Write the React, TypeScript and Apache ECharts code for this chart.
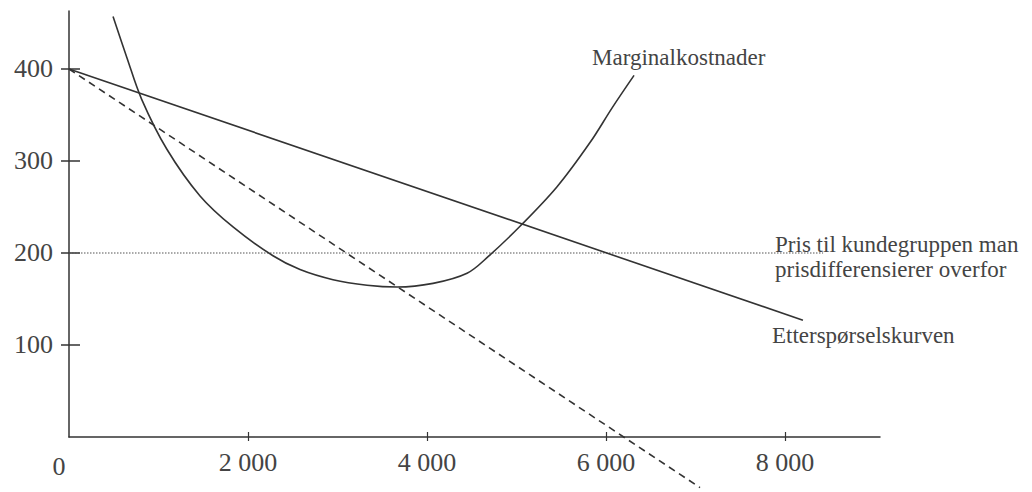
import React, { useEffect, useRef } from "react";
import * as echarts from "echarts";

// Tick values
const xTickValues = [0, 2000, 4000, 6000, 8000];
const yTickValues = [100, 200, 300, 400];

// Demand curve (Etterspørselskurven): straight line
const demandX = [0, 8200];
const demandY = [400, 127];

// Marginal revenue (dashed)
const mrX = [0, 7050];
const mrY = [400, -55];

// Price to the customer group (dotted)
const priceX = [0, 8425];
const priceY = [200, 200];

// Marginal cost curve
const mcX = [492, 648, 812, 1092, 1464, 1836, 2279, 2581, 2950, 3330, 3665, 4067, 4447, 4682, 5039, 5453, 5821, 6070, 6313];
const mcY = [457, 412, 367, 313, 262, 228, 197, 182, 171, 165, 163, 167, 178, 196, 229, 272, 320, 358, 393];

const labelMC = "Marginalkostnader";
const labelDemand = "Etterspørselskurven";
const labelPrice = "Pris til kundegruppen man\nprisdifferensierer overfor";

const zip = (xs: number[], ys: number[]) => xs.map((x, i) => [x, ys[i]]);

const FONT = "Liberation Serif";
const INK = "#333";
const TEXT = "#444";

export default function App() {
  const ref = useRef<HTMLDivElement>(null);
  useEffect(() => {
    if (!ref.current) return;
    const chart = echarts.init(ref.current, undefined, { renderer: "svg" });
    const annot = (coord: number[], text: string, offset: number[]) => ({
      coord,
      symbol: "circle",
      symbolSize: 0,
      label: {
        show: true,
        formatter: text,
        position: "inside",
        align: "left",
        verticalAlign: "middle",
        offset,
        color: TEXT,
        fontFamily: FONT,
        fontSize: 23,
        lineHeight: 25,
      },
    });
    const n = mcX.length - 1;
    const baseAxisLine = { show: true, lineStyle: { color: INK, width: 1.5 } };
    chart.setOption({
      animation: false,
      backgroundColor: "#fff",
      grid: { left: 69, top: 11, right: 152, bottom: 55, containLabel: false, outerBoundsMode: "none" },
      xAxis: [
        {
          type: "value",
          min: 0,
          max: 9061,
          position: "bottom",
          axisLine: { ...baseAxisLine, onZero: false },
          splitLine: { show: false },
          axisTick: { show: true, inside: false, length: 4, lineStyle: { color: INK, width: 1.2 }, customValues: [2000, 4000, 6000, 8000] },
          axisLabel: {
            show: true,
            customValues: xTickValues,
            margin: 12,
            color: TEXT,
            fontFamily: FONT,
            fontSize: 26,
            formatter: (v: number) => (v === 0 ? "{z|0}" : String(v).replace(/(\d)(?=(\d{3})+$)/g, "$1 ")),
            rich: { z: { fontFamily: FONT, fontSize: 26, color: TEXT, padding: [4, 20, 0, 0] } },
          },
        },
        {
          type: "value",
          min: 0,
          max: 9061,
          position: "bottom",
          axisLine: { show: false, onZero: false },
          splitLine: { show: false },
          axisTick: { show: true, inside: true, length: 5, lineStyle: { color: INK, width: 1.2 }, customValues: [2000, 4000, 6000, 8000] },
          axisLabel: { show: false },
        },
      ],
      yAxis: [
        {
          type: "value",
          min: 0,
          max: 463,
          position: "left",
          axisLine: { ...baseAxisLine, onZero: false },
          splitLine: { show: false },
          axisTick: { show: true, inside: false, length: 8, lineStyle: { color: INK, width: 1.5 }, customValues: yTickValues },
          axisLabel: {
            show: true,
            customValues: yTickValues,
            margin: 16,
            color: TEXT,
            fontFamily: FONT,
            fontSize: 26,
          },
        },
        {
          type: "value",
          min: 0,
          max: 463,
          position: "left",
          axisLine: { show: false, onZero: false },
          splitLine: { show: false },
          axisTick: { show: true, inside: true, length: 11, lineStyle: { color: INK, width: 1.5 }, customValues: yTickValues },
          axisLabel: { show: false },
        },
      ],
      series: [
        {
          type: "line",
          name: "price",
          data: zip(priceX, priceY),
          showSymbol: false,
          symbol: "none",
          lineStyle: { color: "#555", width: 1.2, type: [1.5, 1.5] },
          silent: true,
          markPoint: { silent: true, data: [annot([priceX[1], priceY[1]], labelPrice, [-48, 4])] },
        },
        {
          type: "line",
          name: "demand",
          data: zip(demandX, demandY),
          showSymbol: false,
          symbol: "none",
          lineStyle: { color: INK, width: 1.6 },
          silent: true,
          markPoint: { silent: true, data: [annot([demandX[1], demandY[1]], labelDemand, [-31, 15])] },
        },
        {
          type: "line",
          name: "mr",
          data: zip(mrX, mrY),
          showSymbol: false,
          symbol: "none",
          clip: false,
          lineStyle: { color: INK, width: 1.6, type: [7, 5] },
          silent: true,
        },
        {
          type: "line",
          name: "mc",
          data: zip(mcX, mcY),
          showSymbol: false,
          symbol: "none",
          smooth: 0.35,
          clip: false,
          lineStyle: { color: INK, width: 1.6 },
          silent: true,
          markPoint: { silent: true, data: [annot([mcX[n], mcY[n]], labelMC, [-42, -18])] },
        },
      ],
    });
    return () => chart.dispose();
  }, []);
  return (
    <div
      ref={ref}
      style={{ position: "absolute", left: 0, top: 0, width: 1032, height: 492 }}
    />
  );
}
